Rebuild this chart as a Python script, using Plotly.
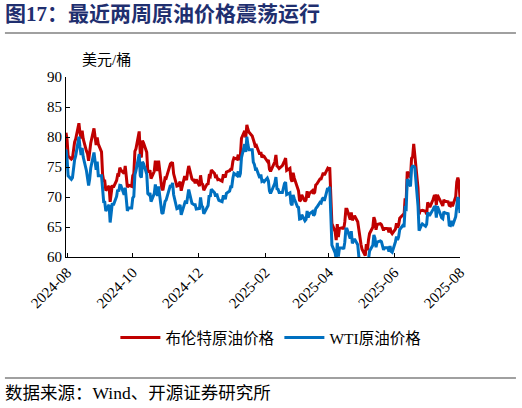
import pandas as pd
import plotly.graph_objects as go

# daily closes, one value per weekday from 2024-07-31 to 2025-08-01 (USD/bbl)
brent_2024_07 = [80.72]
brent_2024_08 = [79.52, 76.81, 76.30, 76.48, 78.33, 79.16, 79.66, 82.30, 80.69, 79.76, 81.04,
                 79.68, 77.66, 77.20, 76.05, 77.22, 79.02, 81.43, 79.55, 78.65, 79.94, 78.80]
brent_2024_09 = [77.52, 73.75, 72.70, 72.69, 71.06, 71.84, 69.19, 70.61, 71.97, 71.61, 72.75,
                 73.70, 73.65, 74.88, 74.49, 73.90, 75.17, 73.46, 71.60, 71.98, 71.77]
brent_2024_10 = [73.56, 73.90, 77.62, 78.05, 80.93, 77.18, 76.58, 79.40, 79.04, 77.46, 74.25,
                 74.22, 74.45, 73.06, 74.29, 76.04, 74.96, 74.38, 76.05, 71.42, 71.12, 72.55, 73.16]
brent_2024_11 = [73.10, 75.08, 75.53, 75.69, 75.63, 73.87, 71.83, 71.89, 72.28, 72.56, 71.04,
                 73.30, 73.31, 72.81, 74.23, 75.17, 73.01, 72.81, 72.83, 72.28, 72.94]
brent_2024_12 = [71.83, 73.62, 72.31, 72.09, 71.12, 72.14, 72.19, 73.52, 73.41, 74.49, 73.91,
                 73.19, 73.39, 72.88, 72.94, 72.63, 73.58, 73.58, 73.26, 74.17, 74.39, 74.64]
brent_2025_01 = [74.64, 75.93, 76.51, 76.30, 77.05, 76.16, 76.92, 79.76, 81.01, 79.92, 82.03,
                 81.29, 80.79, 80.15, 79.29, 79.00, 78.29, 78.50, 77.08, 77.49, 76.58, 76.87, 76.76]
brent_2025_02 = [75.96, 76.20, 74.61, 74.29, 74.66, 75.87, 77.00, 75.18, 75.02, 74.74, 75.22,
                 75.84, 76.04, 76.48, 74.43, 74.78, 73.02, 72.53, 74.04, 73.18]
brent_2025_03 = [71.62, 71.04, 69.30, 69.46, 70.36, 69.28, 69.56, 70.95, 69.88, 70.58, 71.07,
                 70.56, 70.78, 72.00, 72.16, 73.00, 73.02, 73.79, 74.03, 73.63, 74.74]
brent_2025_04 = [74.49, 74.95, 70.14, 65.58, 64.21, 62.82, 65.48, 63.33, 64.76, 64.88, 64.67,
                 65.85, 67.96, 67.96, 66.26, 67.44, 66.12, 66.55, 66.87, 65.86, 64.25, 63.12]
brent_2025_05 = [62.13, 61.29, 60.23, 62.15, 61.12, 62.84, 63.91, 64.96, 66.63, 66.09, 64.53,
                 65.41, 65.54, 65.38, 64.91, 64.44, 64.78, 64.74, 64.09, 64.90, 64.15, 63.90]
brent_2025_06 = [64.63, 65.63, 64.86, 65.34, 66.47, 67.04, 66.87, 69.77, 69.36, 74.23, 73.23,
                 76.45, 76.70, 78.85, 77.01, 71.48, 67.14, 67.68, 67.73, 67.77, 67.61]
brent_2025_07 = [67.11, 69.11, 68.80, 68.30, 69.58, 70.15, 70.19, 68.64, 70.36, 69.21, 68.71,
                 68.52, 69.52, 69.28, 69.21, 68.59, 68.51, 69.18, 68.44, 70.04, 72.51, 73.24, 72.53]
brent_2025_08 = [69.67]

wti_2024_07 = [77.91]
wti_2024_08 = [76.31, 73.52, 72.94, 73.20, 75.23, 76.19, 76.84, 80.06, 78.35, 76.98, 78.16,
               76.65, 74.37, 73.17, 71.93, 73.01, 74.83, 77.42, 75.53, 74.52, 75.91, 73.55]
wti_2024_09 = [73.55, 70.34, 69.20, 69.15, 67.67, 68.71, 65.75, 67.31, 68.97, 68.65, 70.09,
               71.19, 70.91, 71.95, 71.92, 70.37, 71.56, 69.69, 67.67, 68.18, 68.17]
wti_2024_10 = [69.83, 70.10, 73.71, 74.38, 77.14, 73.57, 73.24, 75.85, 75.56, 73.83, 70.58,
               70.39, 70.67, 69.22, 70.56, 72.09, 70.77, 70.19, 71.78, 67.38, 67.21, 68.61, 69.26]
wti_2024_11 = [69.49, 71.47, 71.99, 71.69, 72.36, 70.38, 68.04, 68.12, 68.43, 68.70, 67.02,
               69.16, 69.39, 68.87, 70.10, 71.24, 68.94, 68.77, 68.72, 68.72, 68.00]
wti_2024_12 = [68.10, 69.94, 68.54, 68.30, 67.20, 68.37, 68.59, 70.29, 70.02, 71.29, 70.71,
               70.08, 70.58, 69.91, 69.46, 69.24, 70.10, 70.10, 69.62, 70.60, 70.99, 71.72]
wti_2025_01 = [71.72, 73.13, 73.96, 73.56, 74.25, 73.32, 73.92, 76.57, 78.82, 77.50, 80.04,
               78.68, 77.88, 77.88, 75.83, 75.44, 74.62, 74.66, 73.17, 73.77, 72.62, 72.73, 72.53]
wti_2025_02 = [73.16, 72.70, 71.03, 70.61, 71.00, 72.32, 73.32, 71.37, 71.29, 70.74, 70.74,
               71.85, 72.25, 72.48, 70.40, 70.70, 68.93, 68.62, 70.35, 69.76]
wti_2025_03 = [68.37, 68.26, 66.31, 66.36, 67.04, 66.03, 66.25, 67.68, 66.55, 67.18, 67.58,
               66.90, 67.16, 68.07, 68.28, 69.11, 69.00, 69.65, 69.92, 69.36, 71.48]
wti_2025_04 = [71.20, 71.71, 66.95, 61.99, 60.70, 59.58, 62.35, 60.07, 61.50, 61.53, 61.33,
               62.47, 64.68, 64.68, 63.08, 64.31, 62.27, 62.79, 63.02, 62.05, 60.42, 58.21]
wti_2025_05 = [59.24, 58.29, 57.13, 59.09, 58.07, 59.91, 61.02, 61.95, 63.67, 63.15, 61.62,
               62.49, 62.69, 62.56, 61.57, 61.20, 61.53, 61.53, 60.89, 61.84, 60.94, 60.79]
wti_2025_06 = [62.52, 63.41, 62.85, 63.37, 64.58, 65.29, 64.98, 68.15, 68.04, 72.98, 71.77,
               74.84, 75.14, 75.14, 74.93, 68.51, 64.37, 64.92, 65.24, 65.52, 65.11]
wti_2025_07 = [65.45, 67.45, 67.00, 67.00, 67.93, 68.33, 68.38, 66.57, 68.45, 66.98, 66.52,
               66.38, 67.54, 67.34, 67.20, 65.31, 65.25, 66.03, 65.16, 66.71, 69.21, 70.00, 69.26]
wti_2025_08 = [67.33]

brent = (brent_2024_07 + brent_2024_08 + brent_2024_09 + brent_2024_10 + brent_2024_11
         + brent_2024_12 + brent_2025_01 + brent_2025_02 + brent_2025_03 + brent_2025_04
         + brent_2025_05 + brent_2025_06 + brent_2025_07 + brent_2025_08)
wti = (wti_2024_07 + wti_2024_08 + wti_2024_09 + wti_2024_10 + wti_2024_11
       + wti_2024_12 + wti_2025_01 + wti_2025_02 + wti_2025_03 + wti_2025_04
       + wti_2025_05 + wti_2025_06 + wti_2025_07 + wti_2025_08)

dates = pd.bdate_range("2024-07-31", "2025-08-01")
n = min(len(dates), len(brent), len(wti))
dates = dates[:n]

tick_vals = ["2024-08-01", "2024-10-01", "2024-12-01", "2025-02-01",
             "2025-04-01", "2025-06-01", "2025-08-01"]
tick_text = ["2024-08", "2024-10", "2024-12", "2025-02", "2025-04", "2025-06", "2025-08"]

serif = "Liberation Serif"
cjk = "Liberation Serif, Noto Sans CJK SC"

fig = go.Figure()
fig.add_trace(go.Scatter(x=dates, y=brent[:n], mode="lines", name="布伦特原油价格",
                         line=dict(color="#C00000", width=3)))
fig.add_trace(go.Scatter(x=dates, y=wti[:n], mode="lines", name="WTI原油价格",
                         line=dict(color="#0070C0", width=3)))

fig.update_layout(
    width=522, height=408,
    margin=dict(l=66, r=62, t=77, b=151),
    plot_bgcolor="white", paper_bgcolor="white",
    font=dict(family=cjk, size=14, color="black"),
    showlegend=True,
    legend=dict(orientation="h", x=0.52, xanchor="center", y=-0.45, yanchor="middle",
                font=dict(family=cjk, size=15.5), itemwidth=40),
)
fig.update_xaxes(
    type="date", range=["2024-07-31", "2025-08-01"],
    tickvals=tick_vals, ticktext=tick_text, tickangle=-45,
    showline=True, linecolor="black", linewidth=1,
    ticks="inside", ticklen=4, tickcolor="black",
    showgrid=False, zeroline=False,
    tickfont=dict(family=serif, size=15),
)
fig.update_yaxes(
    range=[60, 90], dtick=5,
    showline=True, linecolor="black", linewidth=1,
    ticks="inside", ticklen=4, tickcolor="black",
    showgrid=False, zeroline=False,
    tickfont=dict(family=serif, size=15),
)

# title, rules and notes
fig.add_annotation(text="<b>图17：最近两周原油价格震荡运行</b>", xref="paper", yref="paper",
                   x=-0.16, y=1.35, xanchor="left", yanchor="middle", showarrow=False,
                   font=dict(family=cjk, size=21, color="#1F2F6F"))
fig.add_shape(type="line", xref="paper", yref="paper", x0=-0.155, x1=1.142, y0=1.244, y1=1.244,
              line=dict(color="#808080", width=1.5))
fig.add_annotation(text="美元/桶", xref="paper", yref="paper", x=0.035, y=1.094,
                   xanchor="left", yanchor="middle", showarrow=False,
                   font=dict(family=cjk, size=15))
fig.add_shape(type="line", xref="paper", yref="paper", x0=-0.155, x1=1.142, y0=-0.672, y1=-0.672,
              line=dict(color="#808080", width=1.5))
fig.add_annotation(text="数据来源：Wind、开源证券研究所", xref="paper", yref="paper",
                   x=-0.16, y=-0.756, xanchor="left", yanchor="middle", showarrow=False,
                   font=dict(family=cjk, size=17.5))

fig.write_html("out.html", config={"displayModeBar": False},
               post_script="document.body.style.margin='0';")
